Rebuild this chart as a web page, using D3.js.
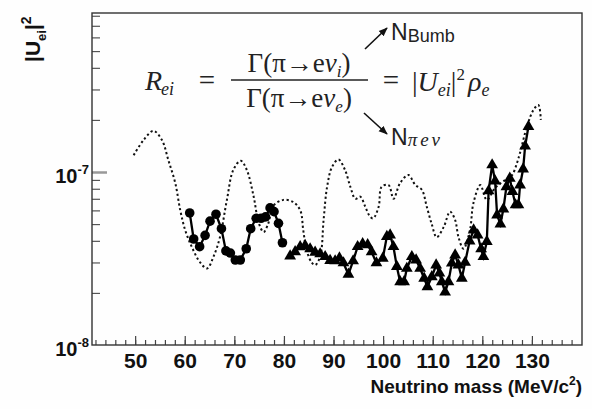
<!DOCTYPE html>
<html><head><meta charset="utf-8">
<script src="https://cdn.jsdelivr.net/npm/d3@7"></script>
<style>body{margin:0;background:#fff}svg{display:block}</style>
</head><body>
<svg id="c" width="592" height="409"></svg>
<script>
// ---------- data ----------
const xTickLabels = [50,60,70,80,90,100,110,120,130];
const xMinorTicks = d3.range(42,140,2);
const yTickLabels = [{v:1e-8, exp:"-8"},{v:1e-7, exp:"-7"}];
const yMinorTicks = [2e-8,3e-8,4e-8,5e-8,6e-8,7e-8,8e-8,9e-8,2e-7,3e-7,4e-7,5e-7,6e-7,7e-7,8e-7];

// dotted curve (expected sensitivity)
const dottedMass = [49.7,51.7,53.7,55.4,56.7,58.1,59.1,60.1,61.4,63.1,64.5,65.8,67.1,68.5,69.8,71.3,72.5,73.9,74.9,75.9,76.8,77.9,79.9,81.9,83.3,83.9,84.6,85.6,86.3,87.3,88.0,88.7,89.7,91.0,92.3,93.4,94.4,95.4,96.4,97.4,98.0,99.1,99.7,101.1,102.1,103.4,105.1,106.5,107.8,108.8,109.8,110.8,112.2,113.5,114.5,115.2,116.2,117.5,118.2,119.6,120.9,122.6,124.6,126.0,127.0,127.6,129.0,130.3,131.3,131.8];
const dottedU2 = [12.5,15.3,17.3,15.3,11.7,8.6,6.0,4.6,3.7,3.0,2.77,3.24,4.2,6.9,10.3,11.6,10.3,7.2,5.1,4.5,5.0,6.4,6.9,6.7,6.0,4.6,3.5,3.0,2.9,3.24,5.3,8.2,10.7,11.8,10.3,8.2,7.0,7.2,6.3,5.5,5.4,6.3,8.2,8.4,7.0,8.6,9.6,8.4,7.9,6.3,5.0,4.2,4.8,5.9,5.3,4.2,3.6,4.6,6.6,8.4,6.9,8.1,9.0,9.6,11.3,12.9,18.3,22.8,24.4,20.0].map(v=>v*1e-8);

// circles series
const circleMass = [61.0,61.8,63.0,64.1,65.1,66.3,67.4,68.3,69.2,70.2,71.2,72.4,73.3,74.4,75.4,76.3,77.2,78.0,78.9,79.7];
const circleU2 = [5.8,4.1,3.7,4.3,5.2,5.7,4.7,3.5,3.4,3.1,3.1,3.6,4.7,5.4,5.4,5.5,6.2,5.9,5.05,3.9].map(v=>v*1e-8);

// triangles series
const triMass = [81.25,82.26,83.27,84.27,85.28,86.29,87.30,88.31,89.31,90.32,91.19,92.00,93.00,93.95,94.86,95.87,96.88,97.68,98.65,99.94,100.75,101.41,102.08,102.76,103.43,104.23,104.78,105.79,106.65,107.46,108.27,108.93,109.82,110.69,111.35,111.83,112.50,113.17,113.85,114.52,115.18,115.87,116.53,117.44,118.25,119.05,119.76,120.22,120.91,121.27,121.98,122.58,122.98,123.65,124.25,124.86,125.54,126.07,126.71,127.28,127.62,128.23,128.63,129.30];
const triU2 = [3.27,3.46,3.69,3.76,3.59,3.43,3.36,3.24,3.08,3.06,3.18,2.98,2.56,3.06,3.70,3.84,3.79,3.45,2.98,3.17,4.23,4.32,3.70,2.84,2.32,2.32,2.77,3.24,3.10,2.77,2.43,2.17,2.48,2.90,2.60,2.32,2.02,2.32,2.97,3.31,2.90,2.43,3.00,3.99,4.62,4.32,3.59,3.24,3.96,7.77,10.98,8.87,5.64,5.00,6.11,8.22,9.20,7.71,6.45,6.45,8.41,10.4,14.1,18.3].map(v=>v*1e-8);

// ---------- chart ----------
const svg = d3.select("#c");
const L=92, R=582, T=13, B=345;
const x = d3.scaleLinear().domain([41.3,140.1]).range([L,R]);
const y = d3.scaleLog().domain([1e-8,8.3e-7]).range([B,T]);
const SANS = "'Liberation Sans', Arial, Helvetica, sans-serif";
const SERIF = "'Liberation Serif', 'Times New Roman', serif";

svg.append("rect").attr("width",592).attr("height",409).attr("fill","#fefefe");

const defs = svg.append("defs");
defs.append("clipPath").attr("id","clip").append("rect")
  .attr("x",L).attr("y",T).attr("width",R-L).attr("height",B-T);
defs.append("marker").attr("id","ah").attr("viewBox","0 0 10 10")
  .attr("refX",9).attr("refY",5).attr("markerWidth",9).attr("markerHeight",9)
  .attr("markerUnits","userSpaceOnUse").attr("orient","auto")
  .append("path").attr("d","M0,1 L10,5 L0,9 z").attr("fill","#111");

// x ticks (inside, upward)
const gxMinor = svg.append("g").attr("transform",`translate(0,${B})`)
  .call(d3.axisTop(x).tickValues(xMinorTicks).tickSize(5).tickFormat(""));
const gxMajor = svg.append("g").attr("transform",`translate(0,${B})`)
  .call(d3.axisTop(x).tickValues(xTickLabels).tickSize(9).tickFormat(""));
[gxMinor,gxMajor].forEach(g=>{g.select(".domain").remove();
  g.selectAll("line").attr("stroke","#444").attr("stroke-width",1.2);});
const gxLab = svg.append("g").attr("transform",`translate(0,${B})`)
  .call(d3.axisBottom(x).tickValues(xTickLabels).tickSize(0).tickPadding(8).tickFormat(d3.format("d")));
gxLab.select(".domain").remove();
gxLab.selectAll("text").attr("font-family",SANS).attr("font-weight","bold")
  .attr("font-size",21).attr("fill","#111");

// y ticks (inside, rightward)
const gyMinor = svg.append("g").attr("transform",`translate(${L},0)`)
  .call(d3.axisRight(y).tickValues(yMinorTicks).tickSize(8).tickFormat(""));
gyMinor.select(".domain").remove();
gyMinor.selectAll("line").attr("stroke","#555").attr("stroke-width",1.2);
const gyMajor = svg.append("g").attr("transform",`translate(${L},0)`)
  .call(d3.axisRight(y).tickValues([1e-7]).tickSize(15).tickFormat(""));
gyMajor.select(".domain").remove();
gyMajor.selectAll("line").attr("stroke","#999").attr("stroke-width",2.5);

// y tick labels 10^-n
const yl = svg.append("g").selectAll("text").data(yTickLabels).join("text")
  .attr("x",89).attr("y",d=>y(d.v)+11).attr("text-anchor","end")
  .attr("font-family",SANS).attr("font-weight","bold").attr("font-size",20).attr("fill","#111");
yl.append("tspan").text("10");
yl.append("tspan").attr("dy",-9).attr("font-size",13).text(d=>d.exp);

// frame
svg.append("rect").attr("x",L).attr("y",T).attr("width",R-L).attr("height",B-T)
  .attr("fill","none").attr("stroke","#333").attr("stroke-width",1.4);

// axis titles
const xt = svg.append("text").attr("x",582).attr("y",393).attr("text-anchor","end")
  .attr("font-family",SANS).attr("font-weight","bold").attr("font-size",19).attr("fill","#111");
xt.append("tspan").text("Neutrino mass (MeV/c");
xt.append("tspan").attr("dy",-8).attr("font-size",12).text("2");
xt.append("tspan").attr("dy",8).text(")");

const yt = svg.append("text").attr("transform","translate(40,62) rotate(-90)")
  .attr("font-family",SANS).attr("font-weight","bold").attr("font-size",21).attr("fill","#111");
yt.append("tspan").text("|U");
yt.append("tspan").attr("dy",6).attr("font-size",13).text("ei");
yt.append("tspan").attr("dy",-6).text("|");
yt.append("tspan").attr("dy",-9).attr("font-size",14).text("2");

// data marks
const plot = svg.append("g").attr("clip-path","url(#clip)");
const dotted = dottedMass.map((m,i)=>[m,dottedU2[i]]);
plot.append("path").datum(dotted)
  .attr("d",d3.line().x(d=>x(d[0])).y(d=>y(d[1])).curve(d3.curveCatmullRom))
  .attr("fill","none").attr("stroke","#111").attr("stroke-width",2)
  .attr("stroke-dasharray","2.2,2.6");

const circ = circleMass.map((m,i)=>[m,circleU2[i]]);
plot.append("path").datum(circ)
  .attr("d",d3.line().x(d=>x(d[0])).y(d=>y(d[1])))
  .attr("fill","none").attr("stroke","#000").attr("stroke-width",2.3);
plot.append("g").selectAll("circle").data(circ).join("circle")
  .attr("cx",d=>x(d[0])).attr("cy",d=>y(d[1])).attr("r",4.8).attr("fill","#000");

const tri = triMass.map((m,i)=>[m,triU2[i]]);
plot.append("path").datum(tri)
  .attr("d",d3.line().x(d=>x(d[0])).y(d=>y(d[1])))
  .attr("fill","none").attr("stroke","#000").attr("stroke-width",2.3);
plot.append("g").selectAll("path").data(tri).join("path")
  .attr("transform",d=>`translate(${x(d[0])},${y(d[1])})`)
  .attr("d",d3.symbol(d3.symbolTriangle).size(60)).attr("fill","#000");

// formula
const F = svg.append("g").attr("font-family",SERIF).attr("fill","#222");
function t(xp,yp,str,size,italic,anchor){
  return F.append("text").attr("x",xp).attr("y",yp).attr("font-size",size)
    .attr("font-style",italic?"italic":"normal").attr("text-anchor",anchor||"start").text(str);
}
t(145,90,"R",28,true);
t(161,95,"ei",18,true);
t(207,90,"=",29,false,"middle");
// numerator
const num = F.append("text").attr("x",299).attr("y",72).attr("font-size",27).attr("text-anchor","middle");
num.append("tspan").text("Γ(π→e");
num.append("tspan").attr("font-style","italic").text("ν");
num.append("tspan").attr("font-style","italic").attr("font-size",17).attr("dy",5).text("i");
num.append("tspan").attr("dy",-5).text(")");
F.append("line").attr("x1",231).attr("x2",368).attr("y1",80).attr("y2",80)
  .attr("stroke","#222").attr("stroke-width",1.4);
const den = F.append("text").attr("x",299).attr("y",107).attr("font-size",27).attr("text-anchor","middle");
den.append("tspan").text("Γ(π→e");
den.append("tspan").attr("font-style","italic").text("ν");
den.append("tspan").attr("font-style","italic").attr("font-size",17).attr("dy",5).text("e");
den.append("tspan").attr("dy",-5).text(")");
t(391,90,"=",29,false,"middle");
const rhs = F.append("text").attr("x",412).attr("y",91).attr("font-size",28);
rhs.append("tspan").text("|");
rhs.append("tspan").attr("font-style","italic").text("U");
rhs.append("tspan").attr("font-style","italic").attr("font-size",18).attr("dy",5).text("ei");
rhs.append("tspan").attr("dy",-5).text("|");
rhs.append("tspan").attr("font-size",17).attr("dy",-11).text("2");
rhs.append("tspan").attr("font-style","italic").attr("dy",11).attr("dx",3).text("ρ");
rhs.append("tspan").attr("font-style","italic").attr("font-size",18).attr("dy",5).text("e");

// arrows
svg.append("line").attr("x1",365).attr("y1",49).attr("x2",387).attr("y2",28)
  .attr("stroke","#111").attr("stroke-width",1.6).attr("marker-end","url(#ah)");
svg.append("line").attr("x1",364).attr("y1",113).attr("x2",387).attr("y2",134)
  .attr("stroke","#111").attr("stroke-width",1.6).attr("marker-end","url(#ah)");
const n1 = svg.append("text").attr("x",391).attr("y",40).attr("font-family",SANS)
  .attr("font-size",23).attr("fill","#222");
n1.append("tspan").text("N");
n1.append("tspan").attr("font-size",18).attr("dy",2).text("Bumb");
const n2 = svg.append("text").attr("x",391).attr("y",145).attr("font-family",SANS)
  .attr("font-size",23).attr("fill","#222");
n2.append("tspan").text("N");
n2.append("tspan").attr("font-family",SERIF).attr("font-style","italic").attr("font-size",19)
  .attr("dy",1).attr("letter-spacing",3).text("πeν");
</script>
</body></html>
